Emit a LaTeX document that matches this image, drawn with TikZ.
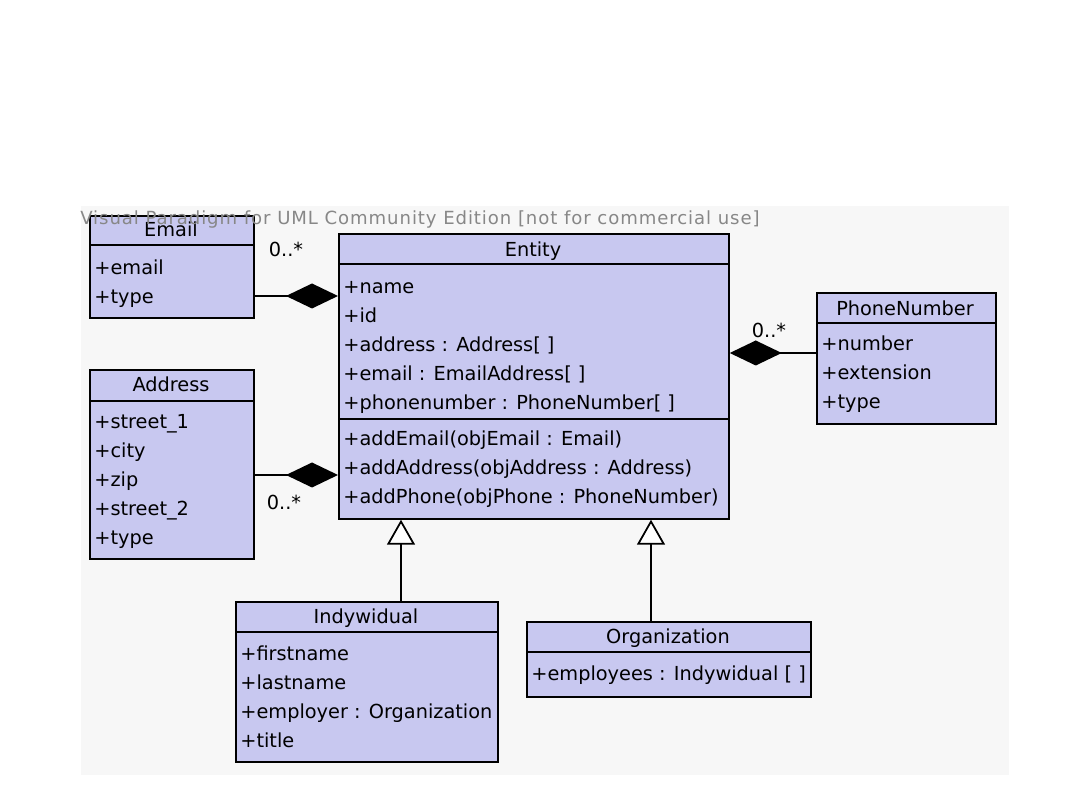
\documentclass[tikz,border=0pt]{standalone}
\usepackage{fontspec}
\usetikzlibrary{arrows.meta}
\newfontfamily\umlsans{DejaVu Sans}
\newfontfamily\stampsans[LetterSpace=5]{DejaVu Sans}
\definecolor{classfill}{RGB}{200,200,240}
\definecolor{panel}{RGB}{247,247,247}
\definecolor{stamp}{RGB}{135,135,135}
\tikzset{
	classbox/.style 2 args={draw=black, line width=1pt, fill=classfill, anchor=north west, inner sep=0pt, minimum width=#1*0.02cm, minimum height=#2*0.02cm},
	divider/.style={line width=1pt},
	classname/.style={font=\umlsans\fontsize{11}{13}\selectfont, anchor=base, inner sep=0pt},
	member/.style={font=\umlsans\fontsize{11}{13}\selectfont, anchor=base west, inner sep=0pt},
	mult/.style={font=\umlsans\fontsize{11}{13}\selectfont, inner sep=0pt},
	compose/.style={line width=1pt, {Diamond[length=1.04cm, width=0.5cm]}-},
	inherit/.style={line width=1pt, {Triangle[fill=white, length=0.5cm, width=0.56cm]}-}
}
\begin{document}
\begin{tikzpicture}[x=0.02cm, y=-0.02cm]
		\useasboundingbox (0, 0) rectangle (1080, 810);
		\fill[panel] (81, 206) rectangle (1009, 775);
		% Email
		\node[classbox={164}{102}] (email) at (89, 215) {};
		\draw[divider] (email.north west) ++(0, 30) -- ++(164, 0);
		\node[classname] (email-name) at (171, 237) {Email};
		\foreach \m [count=\i] in {+email, +type}{
			\node[member] (email-\i) at (94, 246 + 29*\i) {\m};
		}
		% Entity
		\node[classbox={390}{285}] (entity) at (338, 233) {};
		\draw[divider] (entity.north west) ++(0, 31) -- ++(390, 0);
		\draw[divider] (entity.north west) ++(0, 186) -- ++(390, 0);
		\node[classname] (entity-name) at (533, 257) {Entity};
		\foreach \m [count=\i] in {+name, +id, +address : Address[ ], +email : EmailAddress[ ], +phonenumber : PhoneNumber[ ]}{
			\node[member] (entity-a\i) at (343, 265 + 29*\i) {\m};
		}
		\foreach \m [count=\i] in {+addEmail(objEmail : Email), +addAddress(objAddress : Address), +addPhone(objPhone : PhoneNumber)}{
			\node[member] (entity-o\i) at (343, 417 + 29*\i) {\m};
		}
		% PhoneNumber
		\node[classbox={179}{131}] (phone) at (816, 292) {};
		\draw[divider] (phone.north west) ++(0, 31) -- ++(179, 0);
		\node[classname] (phone-name) at (905, 316) {PhoneNumber};
		\foreach \m [count=\i] in {+number, +extension, +type}{
			\node[member] (phone-\i) at (821, 322 + 29*\i) {\m};
		}
		% Address
		\node[classbox={164}{189}] (address) at (89, 369) {};
		\draw[divider] (address.north west) ++(0, 32) -- ++(164, 0);
		\node[classname] (address-name) at (171, 392) {Address};
		\foreach \m [count=\i] in {+street\_1, +city, +zip, +street\_2, +type}{
			\node[member] (address-\i) at (94, 400 + 29*\i) {\m};
		}
		% Indywidual
		\node[classbox={262}{160}] (indy) at (235, 601) {};
		\draw[divider] (indy.north west) ++(0, 31) -- ++(262, 0);
		\node[classname] (indy-name) at (366, 624) {Indywidual};
		\foreach \m [count=\i] in {+firstname, +lastname, +employer : Organization, +title}{
			\node[member] (indy-\i) at (240, 632 + 29*\i) {\m};
		}
		% Organization
		\node[classbox={284}{75}] (org) at (526, 621) {};
		\draw[divider] (org.north west) ++(0, 31) -- ++(284, 0);
		\node[classname] (org-name) at (668, 644) {Organization};
		\node[member] (org-1) at (531, 681) {+employees : Indywidual [ ]};
		% links
		\coordinate (email-link) at (0, 296);
		\coordinate (address-link) at (0, 475);
		\coordinate (phone-link) at (0, 353);
		\coordinate (indy-link) at (401, 0);
		\coordinate (org-link) at (651, 0);
		\draw[compose] (entity.west |- email-link) -- (email.east |- email-link);
		\draw[compose] (entity.west |- address-link) -- (address.east |- address-link);
		\draw[compose] (entity.east |- phone-link) -- (phone.west |- phone-link);
		\draw[inherit] (entity.south -| indy-link) -- (indy.north -| indy-link);
		\draw[inherit] (entity.south -| org-link) -- (org.north -| org-link);
		\node[mult] (email-mult) at (286, 249) {0..*};
		\node[mult] (address-mult) at (284, 502) {0..*};
		\node[mult] (phone-mult) at (769, 330) {0..*};
		% watermark
		\node[anchor=base west, inner sep=0pt, text=stamp, font=\stampsans\fontsize{10.3}{12}\selectfont] (stamp) at (80, 225) {Visual Paradigm for UML Community Edition [not for commercial use]};
\end{tikzpicture}
\end{document}
